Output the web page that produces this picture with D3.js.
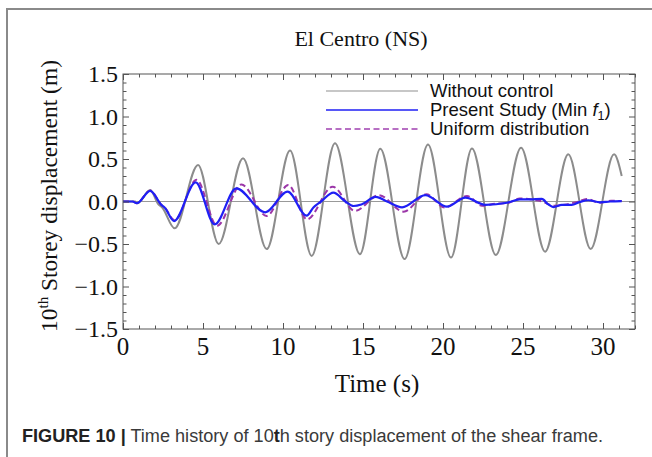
<!DOCTYPE html>
<html><head><meta charset="utf-8">
<script src="https://cdn.jsdelivr.net/npm/d3@7"></script>
<style>body{margin:0;background:#fff;}svg{display:block;}</style>
</head><body>
<svg id="c" width="652" height="457"></svg>
<script>
// ---- data ----
const xTicks = [0, 5, 10, 15, 20, 25, 30];
const yTicks = [-1.5, -1.0, -0.5, 0.0, 0.5, 1.0, 1.5];
const seriesNames = ["Without control", "Present Study (Min f1)", "Uniform distribution"];

const tUncontrolled = [0, 0.75, 0.9, 1.7, 2.2, 2.45, 3.23, 4.69, 5.98, 7.5, 8.98, 10.44, 11.79, 13.25, 14.81, 16.08, 17.6, 19.06, 20.5, 21.81, 23.3, 24.88, 26.38, 27.83, 29.23, 30.69, 31.17];
const vUncontrolled = [0, 0, -0.02, 0.135, -0.03, -0.07, -0.315, 0.43, -0.5, 0.51, -0.56, 0.6, -0.64, 0.685, -0.62, 0.62, -0.677, 0.67, -0.66, 0.625, -0.63, 0.633, -0.59, 0.555, -0.56, 0.555, 0.30];

const tPresent = [0, 0.6, 0.86, 1.7, 2.4, 2.6, 3.19, 4.54, 5.73, 7.08, 8.88, 10.29, 11.48, 11.9, 12.38, 13.15, 13.9, 14.4, 14.9, 15.8, 16.5, 17.44, 18.9, 20.25, 21.4, 22.65, 24.0, 24.8, 25.44, 26.17, 26.58, 26.9, 27.42, 28.04, 28.56, 29.08, 29.81, 30.44, 31.17];
const vPresent = [0, 0, -0.02, 0.125, -0.04, -0.07, -0.23, 0.225, -0.27, 0.155, -0.127, 0.116, -0.167, -0.07, 0.0, 0.104, 0.0, -0.053, -0.035, 0.055, 0.0, -0.068, 0.076, -0.06, 0.045, -0.04, -0.015, 0.025, 0.025, 0.03, -0.033, -0.065, -0.04, -0.04, -0.005, 0.015, -0.01, 0.0, 0.005];

const tUniform = [0, 0.6, 0.86, 1.7, 2.4, 2.6, 3.22, 4.6, 5.88, 7.4, 8.98, 10.33, 11.5, 13.1, 14.5, 16.0, 17.54, 18.96, 20.1, 21.5, 22.44, 23.3, 24.0, 24.8, 25.65, 26.2, 26.9, 27.73, 28.46, 28.98, 29.81, 30.5, 31.17];
const vUniform = [0, 0, -0.02, 0.13, -0.04, -0.07, -0.22, 0.255, -0.285, 0.2, -0.17, 0.194, -0.21, 0.174, -0.11, 0.075, -0.12, 0.085, -0.07, 0.065, -0.05, -0.025, -0.02, 0.035, 0.02, 0.0, -0.05, -0.035, 0.0, 0.03, -0.015, 0.01, 0.005];

// ---- layout ----
const svg = d3.select("#c");
const L = 123, R = 635, T = 74, B = 329;
const x = d3.scaleLinear().domain([0, 32]).range([L, R]);
const y = d3.scaleLinear().domain([-1.5, 1.5]).range([B, T]);
const serif = "'Liberation Serif','Times New Roman',serif";
const sans = "'Liberation Sans',Arial,sans-serif";

// figure border
svg.append("path").attr("d", "M7,457 V9 H652").attr("fill", "none").attr("stroke", "#8a8a8a").attr("stroke-width", 2);

// title
svg.append("text").attr("x", 361).attr("y", 46).attr("text-anchor", "middle")
  .attr("font-family", serif).attr("font-size", 22).attr("fill", "#111").text("El Centro (NS)");

// zero line
svg.append("line").attr("x1", L).attr("x2", R).attr("y1", y(0)).attr("y2", y(0))
  .attr("stroke", "#999").attr("stroke-width", 1);

// curves
const line = (ts, vs) => d3.line().curve(d3.curveMonotoneX)
  .x((d, i) => x(ts[i])).y((d, i) => y(vs[i]))(vs);

svg.append("path").attr("d", line(tUncontrolled, vUncontrolled)).attr("fill", "none")
  .attr("stroke", "#8c8c8c").attr("stroke-width", 2);
svg.append("path").attr("d", line(tUniform, vUniform)).attr("fill", "none")
  .attr("stroke", "#9b36a8").attr("stroke-width", 2).attr("stroke-dasharray", "6,3.5");
svg.append("path").attr("d", line(tPresent, vPresent)).attr("fill", "none")
  .attr("stroke", "#1f1ff5").attr("stroke-width", 2.2);

// frame
svg.append("rect").attr("x", L).attr("y", T).attr("width", R - L).attr("height", B - T)
  .attr("fill", "none").attr("stroke", "#555").attr("stroke-width", 1);

// axes (inward ticks on all sides)
const minorX = d3.range(0, 33, 1).filter(v => v % 5 !== 0);
const minorY = d3.range(-15, 16, 1).filter(v => v % 5 !== 0).map(v => v / 10);
const mk = (axisFn, scale, vals, len) => axisFn(scale).tickValues(vals).tickSize(len).tickFormat("");
function styleAxis(g) { g.select(".domain").remove(); g.selectAll("line").attr("stroke", "#555"); }

svg.append("g").attr("transform", `translate(0,${B})`).call(mk(d3.axisTop, x, xTicks, 6)).call(styleAxis);
svg.append("g").attr("transform", `translate(0,${B})`).call(mk(d3.axisTop, x, minorX, 3.5)).call(styleAxis);
svg.append("g").attr("transform", `translate(0,${T})`).call(mk(d3.axisBottom, x, xTicks, 6)).call(styleAxis);
svg.append("g").attr("transform", `translate(0,${T})`).call(mk(d3.axisBottom, x, minorX, 3.5)).call(styleAxis);
svg.append("g").attr("transform", `translate(${L},0)`).call(mk(d3.axisRight, y, yTicks, 6)).call(styleAxis);
svg.append("g").attr("transform", `translate(${L},0)`).call(mk(d3.axisRight, y, minorY, 3.5)).call(styleAxis);
svg.append("g").attr("transform", `translate(${R},0)`).call(mk(d3.axisLeft, y, yTicks, 6)).call(styleAxis);
svg.append("g").attr("transform", `translate(${R},0)`).call(mk(d3.axisLeft, y, minorY, 3.5)).call(styleAxis);

// tick labels
const fmtY = v => (v < 0 ? "\u2212" : "") + Math.abs(v).toFixed(1);
svg.append("g").selectAll("text").data(xTicks).join("text")
  .attr("x", d => x(d)).attr("y", 355).attr("text-anchor", "middle")
  .attr("font-family", serif).attr("font-size", 25).attr("fill", "#111").text(d => d);
svg.append("g").selectAll("text").data(yTicks).join("text")
  .attr("x", 118).attr("y", d => y(d) + 8).attr("text-anchor", "end")
  .attr("font-family", serif).attr("font-size", 24).attr("fill", "#111").text(fmtY);

// axis titles
svg.append("text").attr("x", 377).attr("y", 392).attr("text-anchor", "middle")
  .attr("font-family", serif).attr("font-size", 25).attr("fill", "#111").text("Time (s)");
const yl = svg.append("text").attr("transform", "translate(57,196) rotate(-90)").attr("text-anchor", "middle")
  .attr("font-family", serif).attr("font-size", 23.5).attr("fill", "#111");
yl.append("tspan").text("10");
yl.append("tspan").attr("dy", -9).attr("font-size", 15).text("th");
yl.append("tspan").attr("dy", 9).text(" Storey displacement (m)");

// legend
const legY = [91, 110, 129];
const legStyles = [
  {stroke: "#b5b5b5", w: 1.6, dash: null},
  {stroke: "#1f1ff5", w: 1.4, dash: null},
  {stroke: "#a040b0", w: 1.4, dash: "6,3.5"}
];
legStyles.forEach((s, i) => {
  svg.append("line").attr("x1", 326).attr("x2", 418).attr("y1", legY[i]).attr("y2", legY[i])
    .attr("stroke", s.stroke).attr("stroke-width", s.w).attr("stroke-dasharray", s.dash);
});
const lt = (i) => svg.append("text").attr("x", 430).attr("y", legY[i] + 6)
  .attr("font-family", sans).attr("font-size", 18.5).attr("fill", "#111");
lt(0).text(seriesNames[0]);
const l1 = lt(1);
l1.append("tspan").text("Present Study (Min ");
l1.append("tspan").attr("font-style", "italic").text("f");
l1.append("tspan").attr("dy", 4).attr("font-size", 12.5).text("1");
l1.append("tspan").attr("dy", -4).text(")");
lt(2).text(seriesNames[2]);

// caption
const cap = svg.append("text").attr("x", 22).attr("y", 442)
  .attr("font-family", sans).attr("font-size", 18).attr("fill", "#3a3a3a")
  .attr("textLength", 581).attr("lengthAdjust", "spacingAndGlyphs");
cap.append("tspan").attr("font-weight", "bold").attr("fill", "#222").text("FIGURE 10 |");
cap.append("tspan").text(" Time history of 10");
cap.append("tspan").attr("font-weight", "bold").attr("fill", "#222").text("t");
cap.append("tspan").text("h story displacement of the shear frame.");
</script>
</body></html>
